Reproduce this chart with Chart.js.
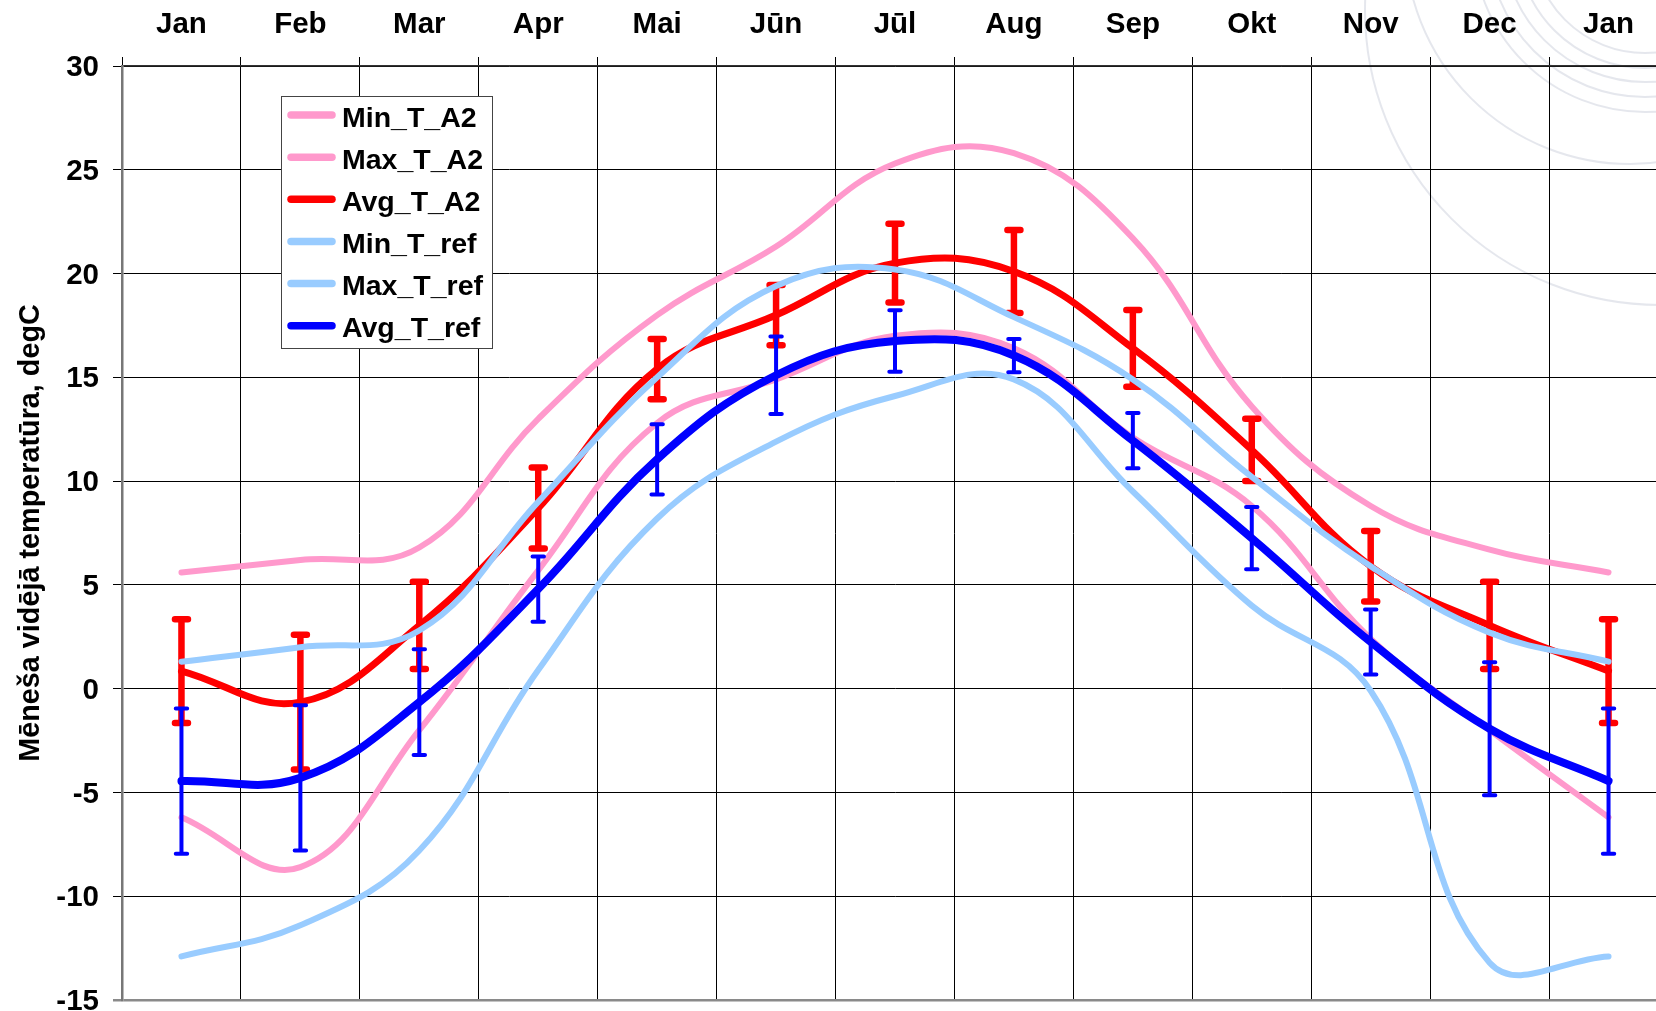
<!DOCTYPE html>
<html>
<head>
<meta charset="utf-8">
<title>Mēneša vidējā temperatūra</title>
<script src="https://cdn.jsdelivr.net/npm/chart.js@4/dist/chart.umd.min.js"></script>
<style>
  html, body { margin: 0; padding: 0; background: #fff; overflow: hidden; }
  #wrap { width: 1656px; height: 1011px; overflow: hidden; position: relative; }
  canvas { display: block; }
</style>
</head>
<body>
<div id="wrap"><canvas id="chart" width="1668" height="1011"></canvas></div>
<script>
// Month labels (the cycle closes on January again)
const months = ['Jan', 'Feb', 'Mar', 'Apr', 'Mai', 'Jūn', 'Jūl', 'Aug', 'Sep', 'Okt', 'Nov', 'Dec', 'Jan'];

// Scenario A2 monthly temperatures, degC
const minA2 = [-6.2, -8.6, -2.0, 5.7, 12.8, 14.9, 17.0, 16.4, 12.1, 8.8, 2.4, -2.0, -6.2];
const maxA2 = [5.6, 6.2, 6.8, 13.0, 18.0, 21.3, 25.3, 25.8, 21.7, 13.6, 8.8, 6.7, 5.6];
const avgA2 = [0.85, -0.65, 3.05, 8.7, 15.4, 18.0, 20.5, 20.1, 16.4, 11.5, 5.9, 3.05, 0.85];
const errA2 = [2.5, 3.25, 2.1, 1.95, 1.45, 1.45, 1.9, 2.0, 1.85, 1.5, 1.7, 2.1, 2.5];

// Reference period monthly temperatures, degC
const minRef = [-12.9, -11.4, -7.8, 0.9, 8.2, 11.9, 14.1, 14.9, 9.5, 4.0, -0.1, -13.2, -12.9];
const maxRef = [1.3, 2.0, 2.8, 9.0, 15.0, 19.4, 20.2, 17.9, 14.9, 10.2, 5.9, 2.7, 1.3];
const avgRef = [-4.45, -4.3, -0.65, 4.8, 11.05, 15.1, 16.75, 16.05, 11.95, 7.25, 2.25, -1.93, -4.45];
const errRef = [3.5, 3.5, 2.55, 1.57, 1.69, 1.87, 1.48, 0.8, 1.33, 1.5, 1.57, 3.2, 3.5];

// Y axis range and step
const yMin = -15, yMax = 30, yStep = 5;
const yTitle = 'Mēneša vidējā temperatūra, degC';

const FONT = "'Liberation Sans', Arial, Helvetica, sans-serif";
const PINK = '#FF99CC', LIGHTBLUE = '#99CCFF', RED = '#FF0000', BLUE = '#0000FF';

function series(label, data, color, width, idx, err) {
  return {
    label, data,
    borderColor: color, backgroundColor: color,
    borderWidth: width,
    pointRadius: 0, pointHoverRadius: 0,
    tension: 0.4,
    borderCapStyle: 'round', borderJoinStyle: 'round',
    fill: false,
    order: 5 - idx,
    errorBar: err || null
  };
}

// Vertical error bars for the averaged series, placed via the chart scales
const errorBarPlugin = {
  id: 'errorBars',
  afterDatasetDraw(chart, args) {
    const ds = chart.data.datasets[args.index];
    if (!ds.errorBar) return;
    const { values, color, width, cap } = ds.errorBar;
    const xs = chart.scales.x, ys = chart.scales.y;
    const ctx = chart.ctx;
    ctx.save();
    ctx.strokeStyle = color;
    ctx.lineWidth = width;
    ctx.lineCap = 'round';
    ds.data.forEach((v, i) => {
      const px = xs.getPixelForValue(i);
      const top = ys.getPixelForValue(v + values[i]);
      const bot = ys.getPixelForValue(v - values[i]);
      ctx.beginPath();
      ctx.moveTo(px, top); ctx.lineTo(px, bot);
      ctx.moveTo(px - cap, top); ctx.lineTo(px + cap, top);
      ctx.moveTo(px - cap, bot); ctx.lineTo(px + cap, bot);
      ctx.stroke();
    });
    ctx.restore();
  }
};

// White page with the faint ring emblem in the upper right corner
const backdropPlugin = {
  id: 'backdrop',
  beforeDraw(chart) {
    const ctx = chart.ctx;
    ctx.save();
    ctx.fillStyle = '#fff';
    ctx.fillRect(0, 0, chart.width, chart.height);
    ctx.strokeStyle = 'rgba(190,195,210,0.4)';
    ctx.lineWidth = 2;
    const rings = [
      [1660, 10, 295], [1630, -61, 225],
      [1645, -60, 172], [1645, -60, 157], [1645, -60, 142], [1645, -60, 128], [1645, -60, 113]
    ];
    rings.forEach(([cx, cy, r]) => {
      ctx.beginPath();
      ctx.arc(cx, cy, r, 0, Math.PI * 2);
      ctx.stroke();
    });
    ctx.restore();
  }
};

// Boxed legend inside the plot and the rotated axis title
const annotatePlugin = {
  id: 'annotate',
  afterDraw(chart) {
    const ctx = chart.ctx;
    const area = chart.chartArea;
    ctx.save();
    // legend box
    const bx = 281, by = 96, bw = 211, bh = 252;
    ctx.fillStyle = '#fff';
    ctx.fillRect(bx, by, bw, bh);
    ctx.strokeStyle = '#444';
    ctx.lineWidth = 1;
    ctx.strokeRect(bx + 0.5, by + 0.5, bw, bh);
    ctx.font = `bold 28.5px ${FONT}`;
    ctx.textAlign = 'left';
    ctx.textBaseline = 'alphabetic';
    chart.data.datasets.forEach((ds, i) => {
      const y = 115 + i * 42.15;
      ctx.strokeStyle = ds.borderColor;
      ctx.lineWidth = 7.5;
      ctx.lineCap = 'round';
      ctx.beginPath();
      ctx.moveTo(291, y); ctx.lineTo(332, y);
      ctx.stroke();
      ctx.fillStyle = '#000';
      ctx.fillText(ds.label, 342, y + 11.5);
    });
    // y axis title, centred on the plot height
    ctx.font = `bold 28.8px ${FONT}`;
    ctx.translate(39, (area.top + area.bottom) / 2);
    ctx.rotate(-Math.PI / 2);
    ctx.textAlign = 'center';
    ctx.fillStyle = '#000';
    ctx.fillText(yTitle, 0, 0);
    ctx.restore();
  }
};

new Chart(document.getElementById('chart'), {
  type: 'line',
  data: {
    labels: months,
    datasets: [
      series('Min_T_A2', minA2, PINK, 6, 0),
      series('Max_T_A2', maxA2, PINK, 6, 1),
      series('Avg_T_A2', avgA2, RED, 7, 2, { values: errA2, color: RED, width: 6.5, cap: 6.5 }),
      series('Min_T_ref', minRef, LIGHTBLUE, 6, 3),
      series('Max_T_ref', maxRef, LIGHTBLUE, 6, 4),
      series('Avg_T_ref', avgRef, BLUE, 8, 5, { values: errRef, color: BLUE, width: 4, cap: 5.7 })
    ]
  },
  options: {
    responsive: false,
    devicePixelRatio: 1,
    animation: false,
    events: [],
    layout: { padding: { top: 0, left: 0, right: 0, bottom: 11 } },
    plugins: { legend: { display: false }, tooltip: { enabled: false } },
    scales: {
      x: {
        type: 'category',
        position: 'top',
        offset: true,
        grid: { offset: true, color: '#000', lineWidth: 1, tickLength: 9 },
        border: { color: '#333', width: 1.5 },
        ticks: {
          color: '#000', padding: 14, maxRotation: 0, autoSkip: false,
          font: { family: FONT, size: 29.5, weight: 'bold' }
        },
        afterFit(s) { s.height = 66; s.paddingLeft = 0; s.paddingRight = 0; }
      },
      y: {
        min: yMin, max: yMax,
        grid: {
          color: c => (c.tick && c.tick.value === yMin) ? '#8a8a8a' : '#000',
          lineWidth: c => (c.tick && c.tick.value === yMin) ? 2.5 : 1,
          tickLength: 9
        },
        border: { color: '#777', width: 2.5 },
        ticks: {
          stepSize: yStep, color: '#000', padding: 14, labelOffset: 2,
          font: { family: FONT, size: 29.5, weight: 'bold' }
        },
        afterFit(s) { s.width = 122; s.paddingTop = 0; s.paddingBottom = 0; }
      }
    }
  },
  plugins: [backdropPlugin, errorBarPlugin, annotatePlugin]
});
</script>
</body>
</html>
